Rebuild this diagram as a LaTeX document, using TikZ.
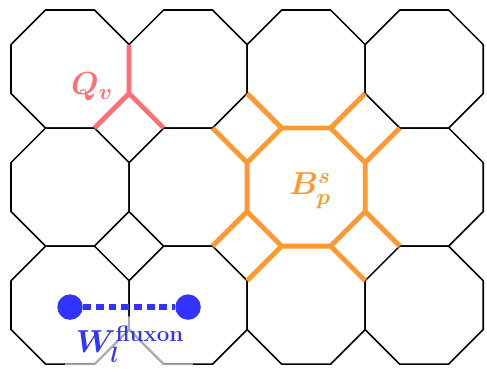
\RequirePackage{fix-cm}
\documentclass[tikz,border=0pt]{standalone}
\usepackage{amsmath}
\usetikzlibrary{calc}
\definecolor{qred}{RGB}{255,110,115}
\definecolor{borange}{RGB}{255,152,48}
\definecolor{wblue}{RGB}{51,51,255}
\definecolor{ggray}{RGB}{170,170,170}

\begin{document}
\begin{tikzpicture}[
    edge/.style={line width=0.9pt,line join=round},
    qv/.style={draw=qred,line width=2.7pt,line join=round},
    bp/.style={draw=borange,line width=2.8pt,line join=round},
    fluxon/.style={draw=wblue,line width=3.3pt,dash pattern=on 4.6pt off 2.8pt},
    ghost/.style={draw=ggray,line width=1pt,line join=round},
    dot/.style={circle,fill=wblue,minimum size=5.2mm,inner sep=0pt},
    lbl/.style={font=\fontsize{18.5}{22}\selectfont\boldmath,inner sep=0pt}]
  \def\R{1.3066}
  \def\w{2.4142}
  \useasboundingbox (-1.432,-6.114) rectangle (8.527,1.4116);
  \foreach \i in {0,...,3}
    \foreach \j in {0,1,2}
      \draw[edge,shift={(\i*\w,-\j*\w)}] (22.5:\R) \foreach \k in {1,...,7} {-- (22.5+45*\k:\R)} -- cycle;
  \begin{scope}[shift={(0,-2*\w)}]
    \coordinate (g) at (337.5:\R);
    \draw[ghost] ($(g)+(0,0.27)$) -- (g) -- (292.5:\R) -- ++(-0.6,0);
    \draw[ghost] (g) -- ++(315:1) -- ++(0.6,0);
  \end{scope}
  \coordinate (v) at (337.5:\R);
  \draw[qv] (22.5:\R) -- (v) -- (292.5:\R);
  \draw[qv] (v) -- ++(315:1);
  \node[lbl,text=qred] (Q) at (0.45,-0.37) {$Q_v$};
  \begin{scope}[shift={(2*\w,-\w)}]
    \draw[bp] (22.5:\R) \foreach \k in {1,...,7} {-- (22.5+45*\k:\R)} -- cycle;
    \foreach \a/\d in {22.5/45,67.5/45,112.5/135,157.5/135,202.5/225,247.5/225,292.5/315,337.5/315}
      \draw[bp] (\a:\R) -- ++(\d:1);
    \node[lbl,text=borange] (B) at (0.08,-0.08) {$B_p^s$};
  \end{scope}
  \node[dot] (f1) at (0,-2*\w-0.04) {};
  \node[dot] (f2) at (\w,-2*\w-0.04) {};
  \draw[fluxon] (f1) -- (f2);
  \node[lbl,text=wblue] (W) at (1.227,-5.623) {$W_l^{\mathbf{fluxon}}$};
\end{tikzpicture}
\end{document}
